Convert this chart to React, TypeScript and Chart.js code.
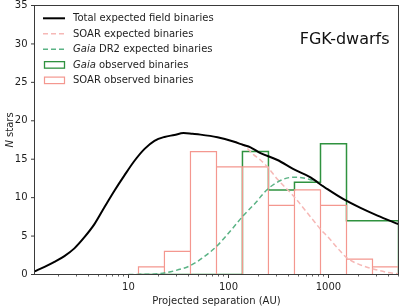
import React, { useEffect, useRef } from 'react';
import { Chart, registerables } from 'chart.js';

Chart.register(...registerables);

// ---------- data ----------
const binEdgesAU = [12.6, 22.9, 41.7, 75.9, 138, 251, 457, 832, 1514, 2754, 5012];
const soarObserved = [1, 3, 16, 14, 14, 9, 11, 9, 2, 1];
const gaiaObserved = [0, 0, 0, 0, 16, 11, 12, 17, 7, 7];

const totalSepAU = [1.15, 1.45, 1.82, 2.29, 2.88, 3.63, 4.57, 5.75, 7.24, 9.12, 11.5, 14.5, 18.2, 22.9, 28.8, 35.5, 43.7, 52.5, 77.6, 112, 141, 166, 209, 309, 447, 661, 776, 977, 1413, 2089, 3090, 5012];
const totalExpected = [0.4, 1.0, 1.65, 2.4, 3.4, 4.85, 6.55, 8.75, 10.9, 12.9, 14.8, 16.35, 17.4, 17.9, 18.15, 18.4, 18.3, 18.2, 17.85, 17.3, 16.85, 16.55, 15.8, 14.9, 13.7, 12.65, 12.0, 11.1, 9.8, 8.67, 7.67, 6.55];

const soarSepAU = [112, 141, 178, 209, 245, 309, 447, 661, 832, 1000, 1259, 1549, 1995, 2754, 3802, 5012];
const soarExpected = [17.3, 16.85, 15.6, 14.9, 14.0, 12.4, 10.2, 7.5, 5.9, 4.8, 3.3, 2.1, 1.35, 0.75, 0.3, 0.08];

const gaiaSepAU = [10, 13.2, 20.9, 28.2, 41.7, 56.2, 77.6, 105, 141, 195, 209, 251, 355, 447, 562, 776, 977];
const gaiaExpected = [0.0, 0.02, 0.12, 0.45, 1.17, 2.25, 3.77, 5.7, 7.67, 9.6, 10.1, 11.2, 12.4, 12.65, 12.55, 12.0, 11.1];

const xMajorTicks = [10, 100, 1000];
const xMinorTicks = [2, 3, 4, 5, 6, 7, 8, 9, 20, 30, 40, 50, 60, 70, 80, 90, 200, 300, 400, 500, 600, 700, 800, 900, 2000, 3000, 4000, 5000];
const yTicks = [0, 5, 10, 15, 20, 25, 30, 35];

// ---------- styles ----------
const FONT = '"DejaVu Sans", Verdana, sans-serif';
const C_BLACK = '#000000';
const C_PINK_BAR = '#f4978f';
const C_GREEN_BAR = '#2f923f';
const C_PINK_DASH = '#f6b8b6';
const C_GREEN_DASH = '#5bb385';
const TEXT = '#1e1e1e';
const SPINE = '#3a3a3a';

function zip(xs: number[], ys: number[]) {
  return xs.map((x, i) => ({ x, y: ys[i] }));
}
function barOutline(edges: number[], counts: number[]) {
  const pts = [{ x: edges[0], y: 0 }];
  counts.forEach((c, i) => {
    pts.push({ x: edges[i], y: c }, { x: edges[i + 1], y: c }, { x: edges[i + 1], y: 0 });
  });
  return pts;
}
function stepOutline(edges: number[], counts: number[]) {
  const pts = [{ x: edges[0], y: 0 }];
  counts.forEach((c, i) => {
    pts.push({ x: edges[i], y: c }, { x: edges[i + 1], y: c });
  });
  pts.push({ x: edges[edges.length - 1], y: 0 });
  return pts;
}

const legendRows = [
  { parts: [['Total expected field binaries', false]], kind: 'line', color: C_BLACK, dash: [] as number[], lw: 2 },
  { parts: [['SOAR expected binaries', false]], kind: 'line', color: C_PINK_DASH, dash: [5, 3], lw: 1.5 },
  { parts: [['Gaia', true], [' DR2 expected binaries', false]], kind: 'line', color: C_GREEN_DASH, dash: [5, 3], lw: 1.5 },
  { parts: [['Gaia', true], [' observed binaries', false]], kind: 'patch', color: C_GREEN_BAR, dash: [] as number[], lw: 1.3 },
  { parts: [['SOAR observed binaries', false]], kind: 'patch', color: C_PINK_BAR, dash: [] as number[], lw: 1.2 },
];

function drawParts(ctx: CanvasRenderingContext2D, parts: any[], x: number, y: number, size: number, align: 'left' | 'center') {
  const widths = parts.map(([t, it]) => {
    ctx.font = `${it ? 'italic ' : ''}${size}px ${FONT}`;
    return ctx.measureText(t).width;
  });
  const total = widths.reduce((a, b) => a + b, 0);
  let cx = align === 'center' ? x - total / 2 : x;
  ctx.textAlign = 'left';
  parts.forEach(([t, it], i) => {
    ctx.font = `${it ? 'italic ' : ''}${size}px ${FONT}`;
    ctx.fillText(t, cx, y);
    cx += widths[i];
  });
}

const decorPlugin = {
  id: 'mplDecor',
  afterDraw(chart: any) {
    const { ctx, chartArea: a, scales } = chart;
    const xs = scales.x;
    const ys = scales.y;
    ctx.save();

    // spines
    ctx.strokeStyle = SPINE;
    ctx.lineWidth = 1;
    ctx.setLineDash([]);
    ctx.strokeRect(a.left, a.top, a.right - a.left, a.bottom - a.top);

    // x ticks
    ctx.beginPath();
    xMajorTicks.forEach((v) => {
      const px = Math.round(xs.getPixelForValue(v) - 0.5) + 0.5;
      ctx.moveTo(px, a.bottom);
      ctx.lineTo(px, a.bottom + 3.5);
    });
    yTicks.forEach((v) => {
      const py = ys.getPixelForValue(v);
      ctx.moveTo(a.left, py);
      ctx.lineTo(a.left - 3.5, py);
    });
    ctx.stroke();
    ctx.beginPath();
    ctx.lineWidth = 0.8;
    xMinorTicks.forEach((v) => {
      const px = Math.round(xs.getPixelForValue(v) - 0.5) + 0.5;
      ctx.moveTo(px, a.bottom);
      ctx.lineTo(px, a.bottom + 2);
    });
    ctx.stroke();

    // tick labels
    ctx.fillStyle = TEXT;
    ctx.font = `10px ${FONT}`;
    ctx.textAlign = 'center';
    ctx.textBaseline = 'alphabetic';
    xMajorTicks.forEach((v) => {
      ctx.fillText(String(v), xs.getPixelForValue(v), 289.5);
    });
    ctx.textAlign = 'right';
    ctx.textBaseline = 'middle';
    yTicks.forEach((v) => {
      ctx.fillText(String(v), a.left - 7, ys.getPixelForValue(v));
    });

    // axis titles
    ctx.textBaseline = 'alphabetic';
    drawParts(ctx, [['Projected separation (AU)', false]], (a.left + a.right) / 2, 304, 10, 'center');
    ctx.save();
    ctx.translate(12.5, 130);
    ctx.rotate(-Math.PI / 2);
    drawParts(ctx, [['N', true], [' stars', false]], 0, 0, 10, 'center');
    ctx.restore();

    // panel label
    ctx.font = `16px ${FONT}`;
    ctx.textAlign = 'right';
    ctx.fillStyle = '#111';
    ctx.fillText('FGK-dwarfs', 389.5, 43.5);

    // legend
    const rowY0 = 18.3;
    const rowStep = 15.45;
    legendRows.forEach((r, i) => {
      const y = rowY0 + i * rowStep;
      ctx.strokeStyle = r.color;
      ctx.lineWidth = r.lw;
      ctx.setLineDash(r.dash);
      if (r.kind === 'line') {
        ctx.beginPath();
        ctx.moveTo(43, y);
        ctx.lineTo(65, y);
        ctx.stroke();
      } else {
        ctx.strokeRect(44.5, y - 3, 20, 6.5);
      }
      ctx.setLineDash([]);
      ctx.fillStyle = TEXT;
      ctx.textBaseline = 'middle';
      drawParts(ctx, r.parts, 73, y + 0.5, 10, 'left');
    });

    ctx.restore();
  },
};

export default function App() {
  const canvasRef = useRef<HTMLCanvasElement | null>(null);

  useEffect(() => {
    document.body.style.margin = '0';
    const canvas = canvasRef.current;
    if (!canvas) return;
    const chart = new Chart(canvas, {
      type: 'scatter',
      data: {
        datasets: [
          {
            label: 'Total expected field binaries',
            data: zip(totalSepAU, totalExpected),
            showLine: true,
            borderColor: C_BLACK,
            borderWidth: 2,
            pointRadius: 0,
            cubicInterpolationMode: 'monotone',
          },
          {
            label: 'Gaia DR2 expected binaries',
            data: zip(gaiaSepAU, gaiaExpected),
            showLine: true,
            borderColor: C_GREEN_DASH,
            borderWidth: 1.5,
            borderDash: [5, 3],
            pointRadius: 0,
            cubicInterpolationMode: 'monotone',
          },
          {
            label: 'SOAR expected binaries',
            data: zip(soarSepAU, soarExpected),
            showLine: true,
            borderColor: C_PINK_DASH,
            borderWidth: 1.5,
            borderDash: [5, 3],
            pointRadius: 0,
            cubicInterpolationMode: 'monotone',
          },
          {
            label: 'SOAR observed binaries',
            data: barOutline(binEdgesAU, soarObserved),
            showLine: true,
            borderColor: C_PINK_BAR,
            borderWidth: 1.2,
            pointRadius: 0,
            tension: 0,
            borderJoinStyle: 'miter',
          },
          {
            label: 'Gaia observed binaries',
            data: stepOutline(binEdgesAU, gaiaObserved),
            showLine: true,
            borderColor: C_GREEN_BAR,
            borderWidth: 1.5,
            pointRadius: 0,
            tension: 0,
            borderJoinStyle: 'miter',
          },
        ],
      },
      options: {
        responsive: false,
        animation: false,
        events: [],
        layout: { padding: { left: 34.5, top: 5.5, right: 1.5, bottom: 33.5 } },
        plugins: { legend: { display: false }, tooltip: { enabled: false }, title: { display: false } },
        scales: {
          x: { type: 'logarithmic', min: 1.15, max: 5012, display: false },
          y: { type: 'linear', min: 0, max: 35, display: false },
        },
      },
      plugins: [decorPlugin],
    } as any);
    return () => chart.destroy();
  }, []);

  return (
    <div style={{ position: 'absolute', left: 0, top: 0, width: 400, height: 308, background: '#fff' }}>
      <canvas ref={canvasRef} width={400} height={308} style={{ display: 'block', width: 400, height: 308 }} />
    </div>
  );
}
